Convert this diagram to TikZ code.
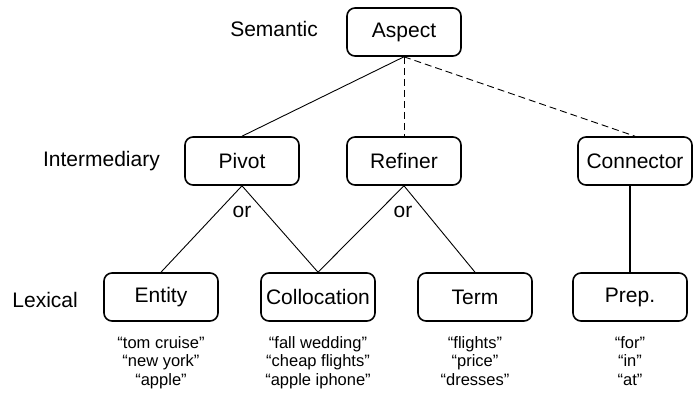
\documentclass[tikz,border=0pt]{standalone}
\usepackage{fontspec}
\setmainfont{Liberation Sans}
\begin{document}
\begin{tikzpicture}[x=1pt,y=-1pt,
  box/.style={draw,line width=1.6pt,rounded corners=8pt,minimum width=114pt,minimum height=48pt,inner sep=0pt,font=\fontsize{21}{25}\selectfont},
  lvl/.style={anchor=base east,inner sep=0pt,font=\fontsize{21}{25}\selectfont},
  orlbl/.style={anchor=base,inner sep=0pt,font=\fontsize{21}{25}\selectfont},
  ex/.style={anchor=base,align=center,inner sep=0pt,font=\fontsize{16.5}{18.5}\selectfont},
  link/.style={line width=0.9pt},
  dlink/.style={line width=0.9pt,dash pattern=on 7pt off 4pt},
  thick link/.style={line width=1.8pt}]
\useasboundingbox (0,0) rectangle (699,393);
% level labels
\node[lvl] (lsem) at (318,37) {Semantic};
\node[lvl] (lint) at (160,167) {Intermediary};
\node[lvl] (llex) at (78,307) {Lexical};
% boxes
\node[box] (aspect) at (404,32) {Aspect};
\node[box] (pivot) at (242,161) {Pivot};
\node[box] (refiner) at (404,161) {Refiner};
\node[box] (connector) at (635,161) {Connector};
\node[box] (entity) at (161,297) {Entity};
\node[box] (colloc) at (318,297) {Collocation};
\node[box] (term) at (475,297) {Term};
\node[box] (prep) at (630,297) {Prep.};
% connectors
\draw[link] (aspect.south) -- (pivot.north);
\draw[dlink] (aspect.south) -- (refiner.north);
\draw[dlink] (aspect.south) -- (connector.north);
\draw[link] (pivot.south) -- (entity.north);
\draw[link] (pivot.south) -- (colloc.north);
\draw[link] (refiner.south) -- (colloc.north);
\draw[link] (refiner.south) -- (term.north);
\draw[thick link] (prep.north |- connector.south) -- (prep.north);
% or labels
\node[orlbl] (or1) at (242,217) {or};
\node[orlbl] (or2) at (403,217) {or};
% examples
\node[ex] (exent) at (161,385) {“tom cruise”\\“new york”\\“apple”};
\node[ex] (excol) at (318,385) {“fall wedding”\\“cheap flights”\\“apple iphone”};
\node[ex] (exterm) at (475,385) {“flights”\\“price”\\“dresses”};
\node[ex] (exprep) at (630,385) {“for”\\“in”\\“at”};
\end{tikzpicture}
\end{document}
